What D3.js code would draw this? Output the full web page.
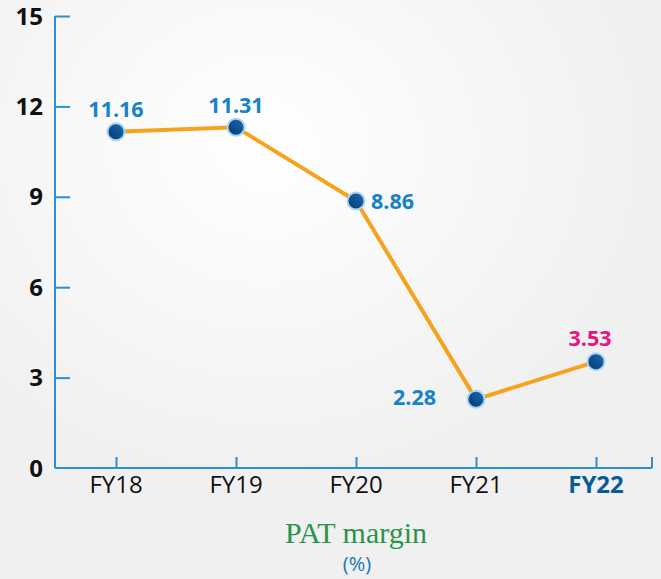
<!doctype html>
<html lang="en">
<head>
  <meta charset="utf-8">
  <title>PAT margin</title>
  <style>
    body { margin: 0; padding: 0; background: #f2f2f2; }
    svg { display: block; }
  </style>
</head>
<body>
<div id="chartDiv"></div>
<script src="https://d3js.org/d3.v7.min.js"></script>
<script>
// data
var years = ["FY18", "FY19", "FY20", "FY21", "FY22"];
var patMargin = [11.16, 11.31, 8.86, 2.28, 3.53];
var yTicks = [0, 3, 6, 9, 12, 15];

var width = 661, height = 579;

var svg = d3.select("#chartDiv")
  .append("svg")
  .attr("width", width)
  .attr("height", height);

// background, light grey paper with a whiter patch up top
var defs = svg.append("defs");
var bg = defs.append("radialGradient").attr("id", "bgGlow")
  .attr("cx", "40%").attr("cy", "25%").attr("r", "60%");
bg.append("stop").attr("offset", "0%").attr("stop-color", "#ffffff");
bg.append("stop").attr("offset", "100%").attr("stop-color", "#f0f0f0");

var dot = defs.append("linearGradient").attr("id", "dotFill")
  .attr("x1", "0%").attr("y1", "100%").attr("x2", "100%").attr("y2", "0%");
dot.append("stop").attr("offset", "0%").attr("stop-color", "#05356b");
dot.append("stop").attr("offset", "100%").attr("stop-color", "#1a6fb8");

svg.append("rect")
  .attr("width", width).attr("height", height)
  .attr("fill", "url(#bgGlow)");

var x = d3.scalePoint().domain(years).range([116, 596]);
var y = d3.scaleLinear().domain([0, 15]).range([468, 16]);

var axisColor = "#2b8fd1";

// y axis
var yAxis = svg.append("g")
  .attr("transform", "translate(55,0)")
  .call(d3.axisRight(y).tickValues(yTicks).tickSize(15).tickFormat(""));
yAxis.select(".domain").attr("stroke", axisColor).attr("stroke-width", 2)
  .attr("d", "M0," + y(15) + "V" + y(0));
yAxis.selectAll(".tick line").attr("stroke", axisColor).attr("stroke-width", 2);
yAxis.selectAll(".tick").filter(function(d) { return d === 0; }).remove();

svg.append("g").selectAll("text")
  .data(yTicks)
  .enter().append("text")
  .attr("x", 43)
  .attr("y", function(d) { return y(d); })
  .attr("dy", "0.36em")
  .attr("text-anchor", "end")
  .style("font-family", "'Open Sans', sans-serif")
  .style("font-weight", 700)
  .style("font-size", "24px")
  .attr("fill", "#111")
  .text(function(d) { return d; });

// x axis
var xAxis = svg.append("g")
  .attr("transform", "translate(0," + y(0) + ")")
  .call(d3.axisTop(x).tickSize(11).tickFormat(""));
xAxis.select(".domain").attr("stroke", axisColor).attr("stroke-width", 2)
  .attr("d", "M55,0H652");
xAxis.selectAll(".tick line").attr("stroke", axisColor).attr("stroke-width", 2);
xAxis.append("line")
  .attr("x1", 652).attr("x2", 652).attr("y1", 0).attr("y2", -11)
  .attr("stroke", axisColor).attr("stroke-width", 2);

svg.append("g").selectAll("text")
  .data(years)
  .enter().append("text")
  .attr("x", function(d) { return x(d); })
  .attr("y", y(0) + 25)
  .attr("text-anchor", "middle")
  .style("font-family", "'Open Sans', sans-serif")
  .style("font-size", "24px")
  .style("font-weight", function(d) { return d === "FY22" ? 700 : 400; })
  .attr("fill", function(d) { return d === "FY22" ? "#0b5c95" : "#111"; })
  .text(function(d) { return d; });

// line
var line = d3.line()
  .x(function(d, i) { return x(years[i]); })
  .y(function(d) { return y(d); });

svg.append("path")
  .datum(patMargin)
  .attr("d", line)
  .attr("fill", "none")
  .attr("stroke", "#f7a21d")
  .attr("stroke-width", 4);

svg.selectAll("circle.pt")
  .data(patMargin)
  .enter().append("circle")
  .attr("class", "pt")
  .attr("cx", function(d, i) { return x(years[i]); })
  .attr("cy", function(d) { return y(d); })
  .attr("r", 8.5)
  .attr("fill", "url(#dotFill)")
  .attr("stroke", "#a8d4f3")
  .attr("stroke-width", 2);

// value labels: above, above, right, left, above
var labelPos = [
  {dx: 0, dy: -15, anchor: "middle", base: "auto"},
  {dx: 0, dy: -14, anchor: "middle", base: "auto"},
  {dx: 15, dy: 0, anchor: "start", base: "middle"},
  {dx: -40, dy: -2, anchor: "end", base: "middle"},
  {dx: -6, dy: -16, anchor: "middle", base: "auto"}
];

svg.append("g").selectAll("text")
  .data(patMargin)
  .enter().append("text")
  .attr("x", function(d, i) { return x(years[i]) + labelPos[i].dx; })
  .attr("y", function(d, i) { return y(d) + labelPos[i].dy; })
  .attr("dy", function(d, i) { return labelPos[i].base === "middle" ? "0.36em" : 0; })
  .attr("text-anchor", function(d, i) { return labelPos[i].anchor; })
  .style("font-family", "'Open Sans', sans-serif")
  .style("font-weight", 700)
  .style("font-size", "21.5px")
  .attr("fill", function(d, i) { return i === 4 ? "#e5157f" : "#1583c6"; })
  .text(function(d) { return d.toFixed(2); });

// title
svg.append("text")
  .attr("x", 356).attr("y", 543)
  .attr("text-anchor", "middle")
  .style("font-family", "'Liberation Serif', serif")
  .style("font-size", "30px")
  .attr("fill", "#2a9448")
  .text("PAT margin");

svg.append("text")
  .attr("x", 357).attr("y", 571)
  .attr("text-anchor", "middle")
  .style("font-family", "'Open Sans', sans-serif")
  .style("font-size", "20px")
  .attr("fill", "#1a76b8")
  .text("(%)");
</script>
</body>
</html>
